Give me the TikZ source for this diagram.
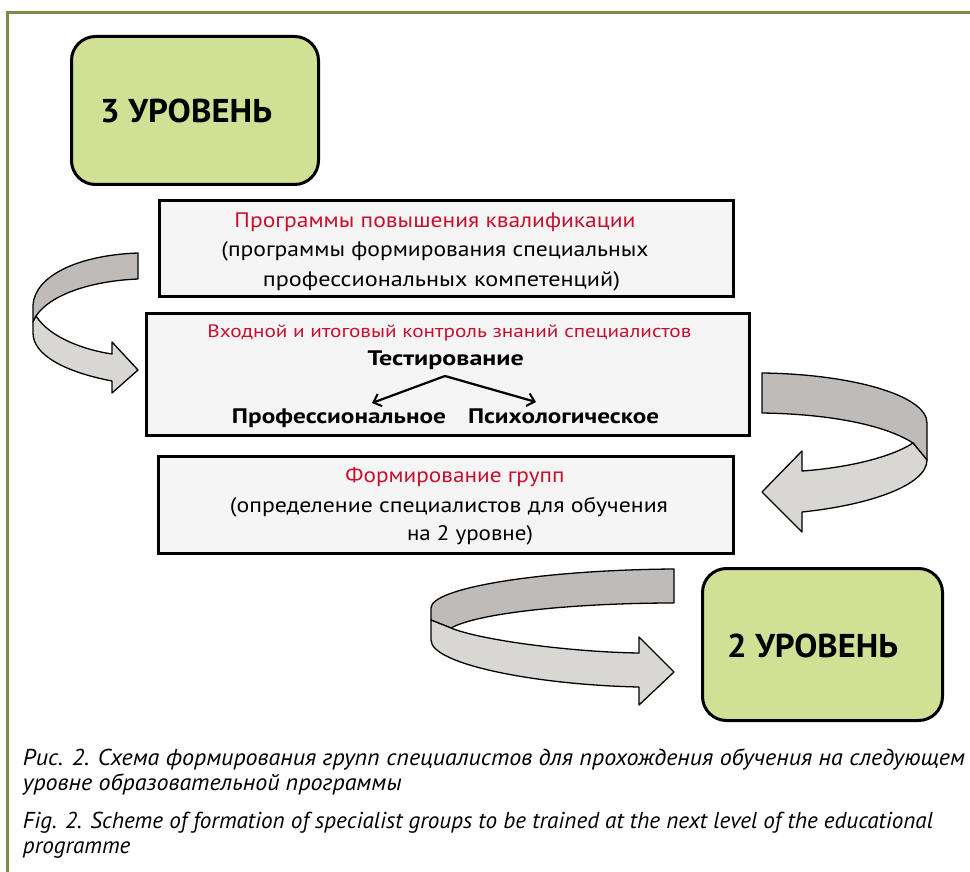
\documentclass[tikz,border=0pt]{standalone}
\usepackage{fontspec}
\setmainfont{PT Sans}
\usepackage{graphicx}
\usetikzlibrary{arrows.meta}
\definecolor{frameolive}{RGB}{125,140,70}
\definecolor{levelgreen}{RGB}{208,224,149}
\definecolor{boxgray}{RGB}{245,245,245}
\definecolor{titlered}{RGB}{200,16,46}
\definecolor{arrowdark}{RGB}{190,187,184}
\definecolor{arrowlight}{RGB}{217,215,212}
\newcommand{\lw}[2]{\resizebox{#1}{\height}{#2}}
\newlength\capwd
\newlength\capwe
\newcommand{\mycapfont}{\fontsize{23}{27}\selectfont\itshape}
\newcommand{\capsx}{1}
\newcommand{\capex}{1}
\AtBeginDocument{%
  \settowidth\capwd{\mycapfont Рис. 2. Схема формирования групп специалистов для прохождения обучения на следующем}%
  \pgfmathsetmacro\capsx{942pt/\capwd}%
  \settowidth\capwe{\mycapfont Fig. 2. Scheme of formation of specialist groups to be trained at the next level of the educational}%
  \pgfmathsetmacro\capex{910pt/\capwe}%
}
\tikzset{
  listbox/.style={draw=black, line width=3pt, fill=boxgray, inner sep=0pt, outer sep=0pt},
  levelbox/.style={draw=black, line width=3pt, fill=levelgreen, rounded corners=24pt, inner sep=0pt, outer sep=0pt},
  txt/.style={anchor=base, inner sep=0pt, outer sep=0pt, font=\fontsize{21}{25}\selectfont},
  redtxt/.style={txt, text=titlered},
  boldtxt/.style={txt, font=\fontsize{21}{25}\selectfont\bfseries},
  leveltxt/.style={anchor=base west, inner sep=0pt, outer sep=0pt, font=\fontsize{33}{36}\selectfont\bfseries},
  captxt/.style={anchor=base west, inner sep=0pt, outer sep=0pt, font=\mycapfont},
  banddark/.style={draw=black, line width=1.3pt, fill=arrowdark, line join=round},
  bandlight/.style={draw=black, line width=1.3pt, fill=arrowlight, line join=round},
  branch/.style={line width=2.2pt, -{Straight Barb[length=7pt,width=13pt,line width=2pt]}}
}
\begin{document}
\begin{tikzpicture}[x=1pt,y=-1pt]
\useasboundingbox (0,0) rectangle (970,872);
\fill[white] (0,0) rectangle (970,872);

% frame
\draw[frameolive, line width=3pt] (7,872) -- (7,12.5) -- (970,12.5);

% level boxes
\node[levelbox, minimum width=247pt, minimum height=148pt] (lvl3) at (195,110.5) {};
\node[leveltxt] (lvl3t) at (100,123) {\lw{172pt}{3 УРОВЕНЬ}};
\node[levelbox, minimum width=240pt, minimum height=152pt] (lvl2) at (822.5,644.5) {};
\node[leveltxt] (lvl2t) at (727,657) {\lw{171pt}{2 УРОВЕНЬ}};

% box 1
\node[listbox, minimum width=574pt, minimum height=96pt] (b1) at (446.5,248.5) {};
\node[redtxt] (b1a) at (435,227) {\lw{401pt}{Программы повышения квалификации}};
\node[txt] (b1b) at (435,256) {\lw{427pt}{(программы формирования специальных}};
\node[txt] (b1c) at (441.5,286) {\lw{357pt}{профессиональных компетенций)}};

% box 2
\node[listbox, minimum width=603pt, minimum height=122pt] (b2) at (448,374.5) {};
\node[redtxt, font=\fontsize{18}{22}\selectfont] (b2a) at (449.4,337.5) {\lw{484pt}{Входной и итоговый контроль знаний специалистов}};
\node[boldtxt] (test) at (445.7,365) {\lw{156pt}{Тестирование}};
\node[boldtxt] (prof) at (339,423) {\lw{214pt}{Профессиональное}};
\node[boldtxt] (psy) at (563.5,423) {\lw{191pt}{Психологическое}};
\coordinate (apex) at (445,376);
\coordinate (profend) at (372,403);
\coordinate (psyend) at (536,402);
\draw[branch] (apex) -- (profend);
\draw[branch] (apex) -- (psyend);

% box 3
\node[listbox, minimum width=575pt, minimum height=97pt] (b3) at (446,505) {};
\node[redtxt] (b3a) at (455,482) {\lw{219pt}{Формирование групп}};
\node[txt] (b3b) at (449,512) {\lw{438pt}{(определение специалистов для обучения}};
\node[txt] (b3c) at (470,540) {\lw{126pt}{на 2 уровне)}};

% left curved arrow
\draw[banddark] (138,253) .. controls (80,255) and (35,275) .. (33,305)
  -- (33,322) -- (36,316) .. controls (50,295) and (90,281) .. (138,279) -- cycle;
\draw[bandlight] (36,316) .. controls (50,338) and (85,350) .. (112,354)
  -- (112,342) -- (138,370) -- (112,393) -- (112,381)
  .. controls (65,372) and (33,355) .. (33,333) -- (33,322) -- cycle;

% right curved arrow
\draw[banddark] (762,373) .. controls (850,374) and (927,395) .. (927,423)
  -- (927,460) -- (913,443) .. controls (885,425) and (830,414) .. (762,413) -- cycle;
\draw[bandlight] (913,443) .. controls (890,458) and (845,468) .. (802,471)
  -- (802,451) -- (762,492) -- (802,532) -- (802,512)
  .. controls (870,505) and (927,485) .. (927,460) -- cycle;

% bottom curved arrow
\draw[banddark] (674,569) .. controls (540,570) and (431,588) .. (431,608)
  -- (431,620) -- (451,628) .. controls (480,612) and (580,603) .. (674,603) -- cycle;
\draw[bandlight] (451,628) .. controls (480,640) and (570,652) .. (639,653)
  -- (639,637) -- (674,672) -- (639,705) -- (639,687)
  .. controls (540,685) and (431,665) .. (431,640) -- (431,620) -- cycle;

% caption
\node[captxt] (cap1) at (23,765) {\scalebox{\capsx}[1]{Рис. 2. Схема формирования групп специалистов для прохождения обучения на следующем}};
\node[captxt] (cap2) at (23,790) {\scalebox{\capsx}[1]{уровне образовательной программы}};
\node[captxt] (cap3) at (23,828) {\scalebox{\capex}[1]{Fig. 2. Scheme of formation of specialist groups to be trained at the next level of the educational}};
\node[captxt] (cap4) at (23,853) {\scalebox{\capex}[1]{programme}};
\end{tikzpicture}
\end{document}
